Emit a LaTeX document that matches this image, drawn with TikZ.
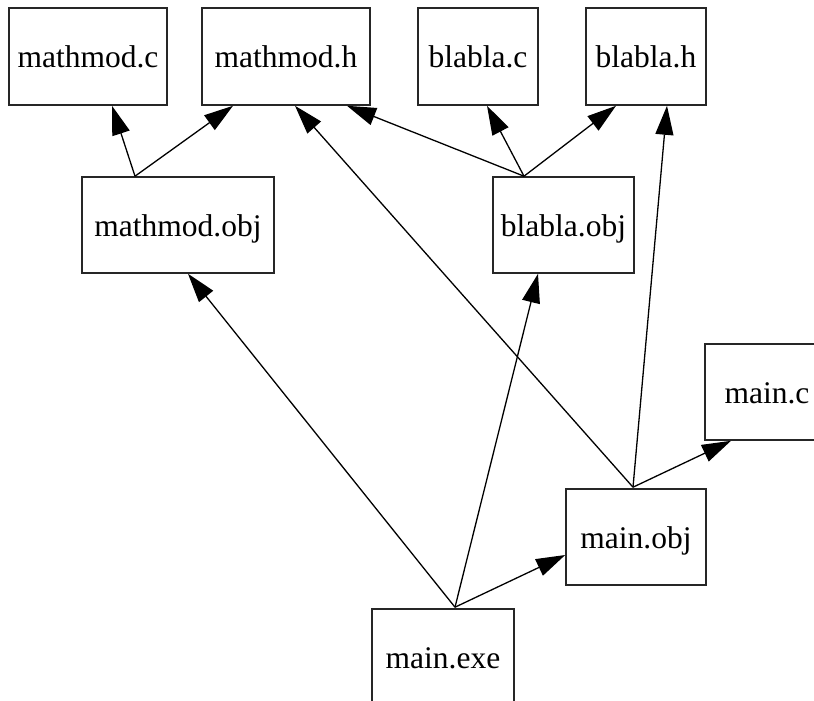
\documentclass[tikz,border=0pt]{standalone}
\usepackage{fontspec}
\setmainfont{Liberation Serif}
\usetikzlibrary{arrows.meta,calc}
\tikzset{
  filebox/.style={draw=black!85, line width=1.6pt, rectangle, inner sep=0pt,
    minimum height=97pt, text height=23pt, text depth=0pt,
    font=\fontsize{31.5}{36}\selectfont},
  dep/.style={line width=1.3pt, -{Triangle[length=29pt,width=18pt]}}
}
\begin{document}
\begin{tikzpicture}[x=1pt,y=-1pt]
\useasboundingbox (0,0) rectangle (814,701);
\clip (0,0) rectangle (814,701);
\node[filebox, minimum width=158pt] (mc) at (88,56.5) {mathmod.c};
\node[filebox, minimum width=168pt] (mh) at (286,56.5) {mathmod.h};
\node[filebox, minimum width=120pt] (bc) at (478,56.5) {blabla.c};
\node[filebox, minimum width=120pt] (bh) at (646,56.5) {blabla.h};
\node[filebox, minimum width=192pt, minimum height=96pt] (mobj) at (178,225) {mathmod.obj};
\node[filebox, minimum width=141pt, minimum height=96pt] (bobj) at (563.5,225) {blabla.obj};
\node[filebox, minimum width=124pt, minimum height=96pt] (mainc) at (767,392) {main.c};
\node[filebox, minimum width=140pt, minimum height=96pt] (mainobj) at (636,537) {main.obj};
\node[filebox, minimum width=142pt, minimum height=96pt] (exe) at (443,657) {main.exe};
% tail points
\coordinate (tm) at ($(mobj.north)+(-43,0)$);
\coordinate (tb) at ($(bobj.north)+(-39.5,0)$);
\coordinate (to) at ($(mainobj.north)+(-3,-1)$);
\coordinate (te) at ($(exe.north)+(12,-1)$);
% edges
\draw[dep] (tm) -- ($(mc.south)+(24,0)$);
\draw[dep] (tm) -- ($(mh.south)+(-53,0)$);
\draw[dep] (tb) -- ($(mh.south)+(61,0)$);
\draw[dep] (tb) -- ($(bc.south)+(9,0)$);
\draw[dep] (tb) -- ($(bh.south)+(-30,0)$);
\draw[dep] (to) -- ($(mh.south)+(9,0)$);
\draw[dep] (to) -- ($(bh.south)+(21,0)$);
\draw[dep] (to) -- ($(mainc.south)+(-36,0)$);
\draw[dep] (te) -- ($(mobj.south)+(10,0)$);
\draw[dep] (te) -- ($(bobj.south)+(-25.5,0)$);
\draw[dep] (te) -- ($(mainobj.west)+(0,18)$);
\end{tikzpicture}
\end{document}
